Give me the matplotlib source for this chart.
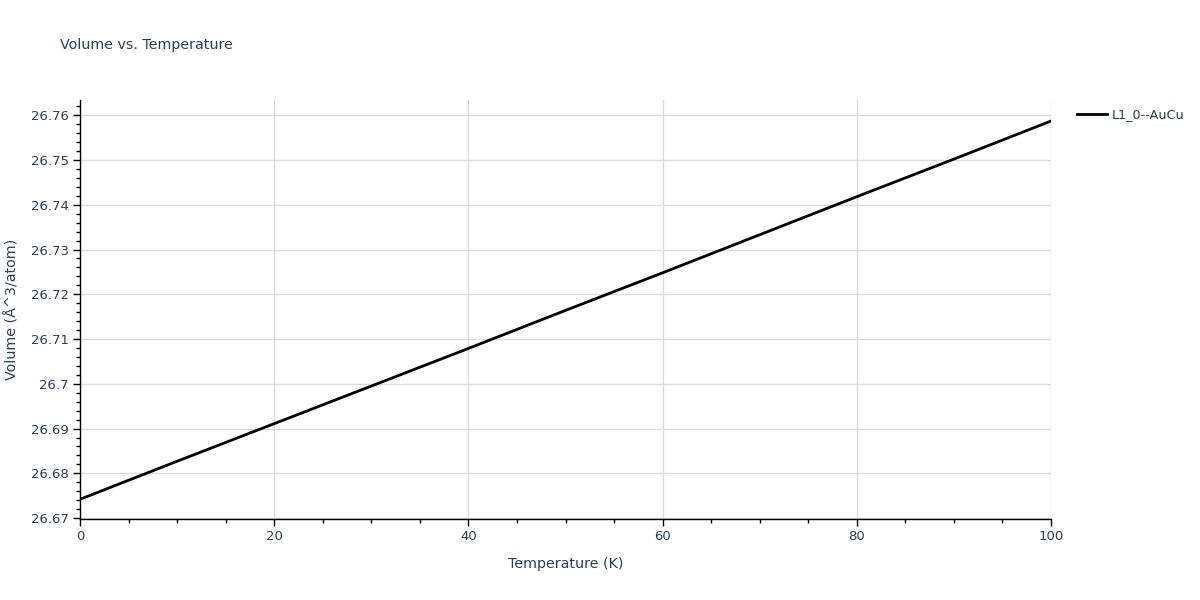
import matplotlib
matplotlib.use("Agg")
import matplotlib.pyplot as plt
from matplotlib.ticker import MultipleLocator, FuncFormatter

temperature = [0, 10, 20, 30, 40, 50, 60, 70, 80, 90, 100]
volume = [26.6742, 26.6827, 26.6911, 26.6995, 26.7079, 26.7164, 26.7248, 26.7333, 26.7418, 26.7502, 26.7587]
series_name = "L1_0--AuCu"

txt = "#2a3f5f"
plt.rcParams['font.family'] = ['DejaVu Sans']

fig = plt.figure(figsize=(12, 6), dpi=100)
ax = fig.add_axes([80/1200, 1 - 519/600, (1051-80)/1200, (519-100)/600])

ax.plot(temperature, volume, color="black", lw=2, label=series_name, zorder=3)
ax.set_xlim(0, 100)
ax.set_ylim(26.6698, 26.7634)

ax.xaxis.set_major_locator(MultipleLocator(20))
ax.xaxis.set_minor_locator(MultipleLocator(5))
ax.yaxis.set_major_locator(MultipleLocator(0.01))
ax.yaxis.set_minor_locator(MultipleLocator(0.002))

def fmt(v, p):
    s = f"{v:.2f}".rstrip("0").rstrip(".")
    return s
ax.yaxis.set_major_formatter(FuncFormatter(fmt))

ax.grid(True, which="major", color="#dcdcdc", lw=1)
ax.set_axisbelow(True)
for s in ["top", "right"]:
    ax.spines[s].set_visible(False)
for s in ["left", "bottom"]:
    ax.spines[s].set_color("black")
    ax.spines[s].set_linewidth(1)
ax.tick_params(which="major", direction="out", length=5, width=1, color="black", labelcolor=txt, labelsize=9.5, pad=3)
ax.tick_params(which="minor", direction="out", length=3, width=1, color="black")

ax.set_xlabel("Temperature (K)", color=txt, fontsize=10.3, labelpad=10)
ax.set_ylabel("Volume (Å^3/atom)", color=txt, fontsize=10.3, labelpad=8)

fig.text(60/1200, 1 - 45/600, "Volume vs. Temperature", color=txt, fontsize=10.3, va="center", ha="left")

leg = ax.legend(loc="upper left", bbox_to_anchor=(1072/1200, 1 - 103/600), bbox_transform=fig.transFigure,
                frameon=False, fontsize=9.2, handlelength=2.3, handletextpad=0.4, borderaxespad=0)
for t in leg.get_texts():
    t.set_color(txt)

fig.savefig("out.png", dpi=100)
